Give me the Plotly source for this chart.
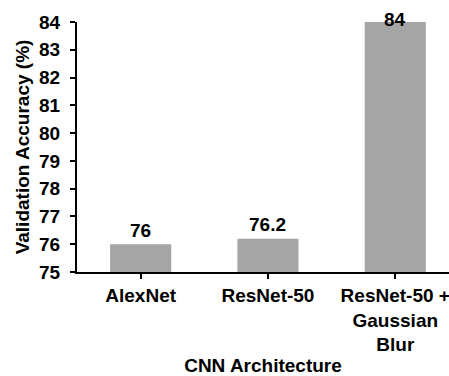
import plotly.graph_objects as go

# Data
architectures = ["AlexNet", "ResNet-50", "ResNet-50 +<br>Gaussian<br>Blur"]
accuracy = [76, 76.2, 84]
value_labels = ["76", "76.2", "84"]

BAR_COLOR = "#A5A5A5"
FONT = "Liberation Sans"
FS = 19

fig = go.Figure(
    go.Bar(
        x=list(range(len(architectures))),
        y=accuracy,
        width=0.48,
        marker=dict(color=BAR_COLOR, line=dict(width=0)),
        hoverinfo="skip",
    )
)

# value labels above each bar (the top one sits on the plot edge)
label_shift = [14, 14, 3]
for i, (v, t) in enumerate(zip(accuracy, value_labels)):
    fig.add_annotation(
        x=i, y=v, text=t, showarrow=False, yanchor="middle", yshift=label_shift[i],
        font=dict(family=FONT, size=FS, color="black", weight="bold"),
    )

fig.update_layout(
    width=449, height=376,
    margin=dict(l=77, r=0, t=22, b=104),
    paper_bgcolor="white", plot_bgcolor="white",
    showlegend=False,
    font=dict(family=FONT, color="black"),
)

fig.update_xaxes(
    range=[-0.5, 2.422],
    tickmode="array",
    tickvals=list(range(len(architectures))),
    ticktext=architectures,
    tickangle=0,
    ticklabeloverflow="allow",
    tickfont=dict(family=FONT, size=FS, weight="bold"),
    ticks="outside", ticklen=5, tickwidth=2, tickcolor="black",
    showline=True, linecolor="black", linewidth=2,
    showgrid=False, zeroline=False,
    title=dict(text="CNN Architecture", font=dict(family=FONT, size=FS, weight="bold"), standoff=4),
)

fig.update_yaxes(
    range=[75, 84],
    dtick=1,
    tickfont=dict(family=FONT, size=FS, weight="bold"),
    ticks="outside", ticklen=5, tickwidth=2, tickcolor="black",
    ticklabelstandoff=6,
    showline=True, linecolor="black", linewidth=2,
    showgrid=False, zeroline=False,
    title=dict(text="Validation Accuracy (%)", font=dict(family=FONT, size=FS, weight="bold"), standoff=4),
)

fig.write_html("out.html")
